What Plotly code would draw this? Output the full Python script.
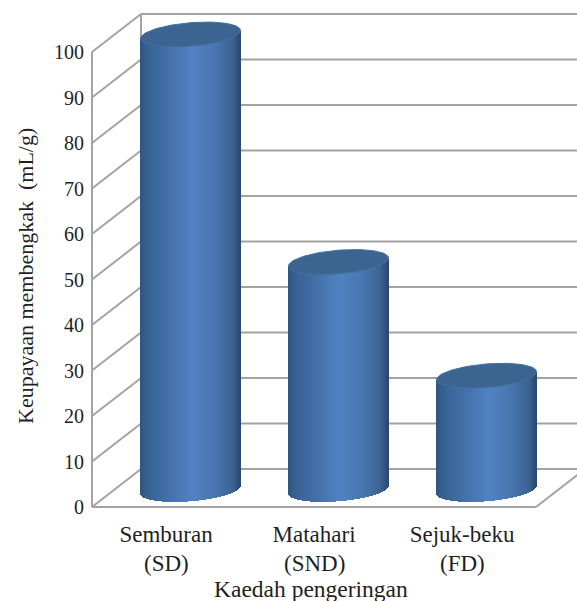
import numpy as np
import plotly.graph_objects as go

# ---- data ----
categories = ["Semburan", "Matahari", "Sejuk-beku"]
categories_line2 = ["(SD)", "(SND)", "(FD)"]
values = [100, 50, 25]
y_ticks = [0, 10, 20, 30, 40, 50, 60, 70, 80, 90, 100]
x_title = "Kaedah pengeringan"
y_title = "Keupayaan membengkak  (mL/g)"

# ---- appearance ----
W, H = 577, 601
PX_X = 148.0          # pixels per category
PX_Y = 4.55           # pixels per value unit
ML, MB = 80, 90
X0_PX = 166.0         # pixel of category 0 on the front plane
Y0_PX = 507.0         # pixel of value 0 on the front plane
DEPTH_X = 49 / PX_X   # wall depth in axis units
DEPTH_Y = 38 / PX_Y
FLOOR_V = 17.5 / PX_Y # cylinder base centre height above the front floor edge
SEMI_A = 50 / PX_X
SEMI_B = 11.8 / PX_Y
TILT = 4 / PX_Y
GRID = "#a3a3a3"
FONT = "Liberation Serif"
TEXT = "#1f1f1f"
CAP = "#3c6491"
stops = [0, .08, .3, .52, .75, .92, 1]
stop_rgb = np.array([[48, 84, 128], [56, 98, 148], [68, 113, 170], [80, 130, 194],
                     [72, 118, 176], [60, 100, 148], [42, 72, 108]], float)

x_range = [(ML - X0_PX) / PX_X, (W - X0_PX) / PX_X]
y_range = [(Y0_PX - (H - MB)) / PX_Y, Y0_PX / PX_Y]


def line(x0, y0, x1, y1):
    return dict(type="line", layer="below", xref="x", yref="y", x0=x0, y0=y0, x1=x1, y1=y1,
                line=dict(color=GRID, width=2))


xl, xr = -0.5, len(categories) - 0.5
shapes = []
for t in y_ticks:
    shapes.append(line(xl, t, xl + DEPTH_X, t + DEPTH_Y))                 # side wall
    shapes.append(line(xl + DEPTH_X, t + DEPTH_Y, xr + DEPTH_X, t + DEPTH_Y))  # back wall
shapes.append(line(xl, 0, xl, y_ticks[-1]))                               # front axis
shapes.append(line(xl + DEPTH_X, DEPTH_Y, xl + DEPTH_X, y_ticks[-1] + DEPTH_Y))
shapes.append(line(xl, 0, xr, 0))                                         # floor front
shapes.append(line(xr, 0, xr + DEPTH_X, DEPTH_Y))                         # floor right

fig = go.Figure()
n_strips = int(round(2 * SEMI_A * PX_X))
strip_w = 2 * SEMI_A / n_strips
for i, (cat, val) in enumerate(zip(categories, values)):
    cx = i + DEPTH_X / 2
    base_v = FLOOR_V
    c = (np.arange(n_strips) + .5) / n_strips * 2 - 1
    s = np.sqrt(1 - c ** 2)
    lower = base_v + TILT * c - SEMI_B * s
    upper = base_v + val + TILT * c
    f = (c + 1) / 2
    rgb = np.stack([np.interp(f, stops, stop_rgb[:, k]) for k in range(3)], axis=1).round().astype(int)
    colors = [f"rgb({r},{g},{b})" for r, g, b in rgb]
    fig.add_trace(go.Bar(x=cx + c * SEMI_A, y=upper - lower, base=lower, width=strip_w * 1.02,
                         marker=dict(color=colors, line=dict(width=0)), name=cat,
                         showlegend=False, hoverinfo="skip"))
    th = np.linspace(0, 2 * np.pi, 121)
    fig.add_trace(go.Scatter(x=cx + SEMI_A * np.cos(th),
                             y=base_v + val + TILT * np.cos(th) + SEMI_B * np.sin(th),
                             mode="lines", fill="toself", fillcolor=CAP,
                             line=dict(color="#44709f", width=1),
                             showlegend=False, hoverinfo="skip"))

annotations = [dict(xref="x", yref="paper", x=i, y=0,
                    yanchor="middle", xanchor="center", yshift=-(563 - (H - MB)),
                    text=t, showarrow=False, font=dict(family=FONT, size=23, color=TEXT))
               for i, t in enumerate(categories_line2)]
annotations.append(dict(xref="paper", yref="paper", x=(311 - ML) / (W - ML), y=0,
                        yanchor="middle", xanchor="center", yshift=-(589 - (H - MB)),
                        text=x_title, showarrow=False,
                        font=dict(family=FONT, size=23.5, color=TEXT)))
annotations.append(dict(xref="paper", yref="paper", x=0, y=1 - 276 / (H - MB),
                        xshift=25 - ML, xanchor="center", yanchor="middle", textangle=-90,
                        text=y_title, showarrow=False,
                        font=dict(family=FONT, size=22, color=TEXT)))

fig.update_layout(
    width=W, height=H, autosize=False,
    margin=dict(l=ML, r=0, t=0, b=MB),
    paper_bgcolor="white", plot_bgcolor="white",
    barmode="overlay", bargap=0, showlegend=False,
    shapes=shapes, annotations=annotations,
    xaxis=dict(range=x_range, tickmode="array", tickvals=list(range(len(categories))),
               ticktext=categories, showgrid=False, zeroline=False, showline=False,
               ticks="outside", ticklen=2, tickcolor="rgba(0,0,0,0)",
               tickfont=dict(family=FONT, size=23, color=TEXT)),
    yaxis=dict(range=y_range, tickmode="array", tickvals=y_ticks,
               showgrid=False, zeroline=False, showline=False,
               ticks="", ticklabelstandoff=-5,
               tickfont=dict(family=FONT, size=20, color=TEXT)),
)

fig.write_html("out.html", config=dict(displayModeBar=False),
               post_script="document.body.style.margin='0';document.documentElement.style.overflow='hidden';")
